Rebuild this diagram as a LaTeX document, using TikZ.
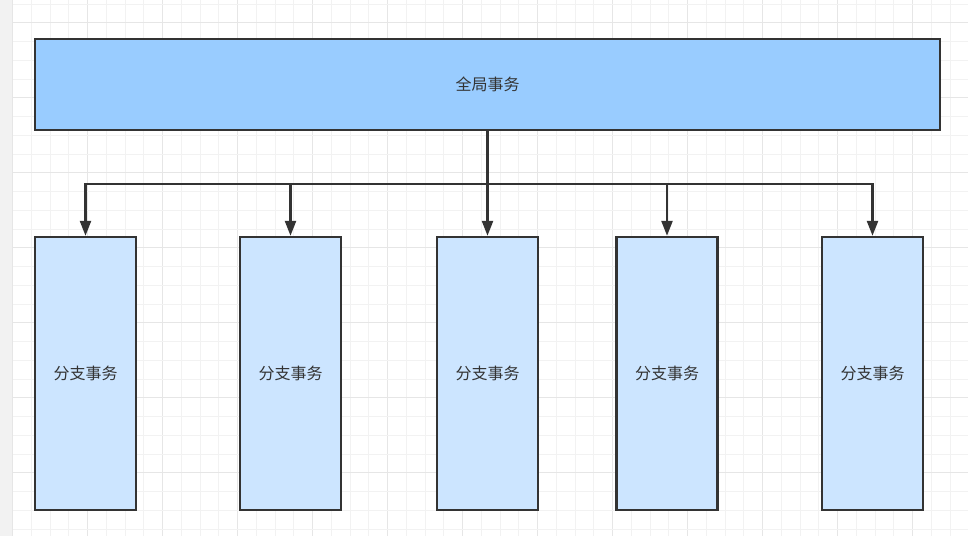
\documentclass[tikz,border=0pt]{standalone}
\usepackage{fontspec}
\newfontfamily\cjk{Noto Sans CJK SC}
\usetikzlibrary{arrows.meta}
\definecolor{edge}{HTML}{333333}
\definecolor{topfill}{HTML}{99CCFF}
\definecolor{subfill}{HTML}{CCE5FF}
\definecolor{minorgrid}{HTML}{F2F2F2}
\definecolor{majorgrid}{HTML}{E6E6E6}
\definecolor{strip}{HTML}{F2F2F2}
\tikzset{
  boxstyle/.style={draw=edge, line width=2.4pt, inner sep=0pt, font=\cjk\fontsize{16}{19}\selectfont, text=edge},
  topbox/.style={boxstyle, fill=topfill, minimum width=905pt, minimum height=91pt},
  subbox/.style={boxstyle, fill=subfill, minimum width=101pt, minimum height=273pt},
  conn/.style={draw=edge, line width=2.4pt, line join=miter, -{Triangle[length=15pt,width=11pt]}},
}
\begin{document}
\begin{tikzpicture}[x=1pt,y=-1pt]
\useasboundingbox (0,0) rectangle (968,536);
\fill[white] (0,0) rectangle (968,536);
\fill[strip] (0,0) rectangle (12.7,536);
% grid
\foreach \i in {0,...,51} {
  \pgfmathsetmacro{\xx}{12.7+18.75*\i}
  \pgfmathtruncatemacro{\mm}{mod(\i,4)}
  \ifnum\mm=0
    \draw[majorgrid, line width=1pt] (\xx,0) -- (\xx,536);
  \else
    \draw[minorgrid, line width=1pt] (\xx,0) -- (\xx,536);
  \fi
}
\foreach \i in {0,...,28} {
  \pgfmathsetmacro{\yy}{4.2+18.75*\i}
  \pgfmathtruncatemacro{\mm}{mod(\i+3,4)}
  \ifnum\mm=0
    \draw[majorgrid, line width=1pt] (12.7,\yy) -- (968,\yy);
  \else
    \draw[minorgrid, line width=1pt] (12.7,\yy) -- (968,\yy);
  \fi
}
% nodes
\node[topbox] (top) at (487.5,84.5) {全局事务};
\node[subbox] (s1) at (85.5,373.5) {分支事务};
\node[subbox] (s2) at (290.5,373.5) {分支事务};
\node[subbox] (s3) at (487.5,373.5) {分支事务};
\node[subbox] (s4) at (667,373.5) {分支事务};
\node[subbox] (s5) at (872.5,373.5) {分支事务};
\coordinate (bus) at (487.5,184);
% connectors
\foreach \s in {s1,s2,s3,s4,s5} {
  \draw[conn] (top.south) -- (bus) -| (\s.north);
}
\end{tikzpicture}
\end{document}
